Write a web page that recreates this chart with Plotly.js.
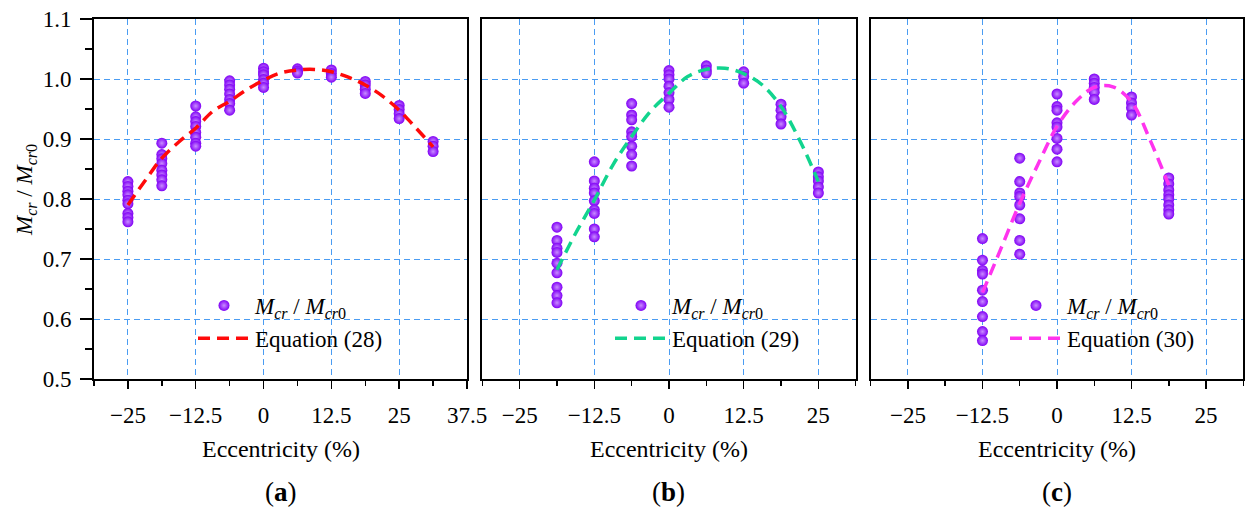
<!DOCTYPE html>
<html>
<head>
<meta charset="utf-8">
<script src="https://cdn.plot.ly/plotly-3.0.1.min.js"></script>
<style>
  html, body { margin: 0; padding: 0; background: #fff; }
  #chart { width: 1254px; height: 514px; }
</style>
</head>
<body>
<div id="chart"></div>
<script>
// eccentricity groups (%) and measured Mcr/Mcr0 per group, panel (a)
const eccA = [-25, -18.75, -12.5, -6.25, 0, 6.25, 12.5, 18.75, 25, 31.25];
const ratioA = [
  [0.829, 0.821, 0.813, 0.807, 0.798, 0.792, 0.776, 0.769, 0.762],
  [0.893, 0.874, 0.867, 0.859, 0.848, 0.84, 0.832, 0.822],
  [0.955, 0.937, 0.929, 0.921, 0.911, 0.903, 0.893, 0.888],
  [0.997, 0.99, 0.983, 0.975, 0.966, 0.959, 0.948],
  [1.018, 1.012, 1.007, 0.999, 0.993, 0.986],
  [1.017, 1.013, 1.01],
  [1.015, 1.009, 1.003],
  [0.996, 0.99, 0.983, 0.976],
  [0.956, 0.949, 0.942, 0.934],
  [0.896, 0.888, 0.879]
];
const eqA_x = [-25, -21.875, -18.75, -15.625, -12.5, -9.375, -6.25, -3.125, 0, 3.125,
               6.25, 9.375, 12.5, 15.625, 18.75, 21.875, 25, 28.125, 31.25];
const eqA_y = [0.79, 0.83, 0.868, 0.895, 0.918, 0.946, 0.963, 0.982, 0.998, 1.01,
               1.015, 1.016, 1.012, 1.003, 0.99, 0.972, 0.948, 0.918, 0.887];

// panel (b)
const eccB = [-18.75, -12.5, -6.25, 0, 6.25, 12.5, 18.75, 25];
const ratioB = [
  [0.753, 0.731, 0.718, 0.711, 0.693, 0.677, 0.653, 0.639, 0.627],
  [0.862, 0.83, 0.818, 0.81, 0.797, 0.782, 0.776, 0.75, 0.737],
  [0.959, 0.94, 0.932, 0.912, 0.904, 0.888, 0.874, 0.855],
  [1.014, 1.007, 1.0, 0.988, 0.977, 0.966, 0.953],
  [1.022, 1.015, 1.01],
  [1.012, 1.004, 0.993],
  [0.958, 0.948, 0.937, 0.925],
  [0.845, 0.837, 0.83, 0.82, 0.81]
];
const eqB_x = [-18.75, -15.625, -12.5, -9.375, -6.25, -3.125, 0, 3.125,
               6.25, 9.375, 12.5, 15.625, 18.75, 21.875, 25];
const eqB_y = [0.682, 0.743, 0.798, 0.857, 0.904, 0.946, 0.976, 1.004,
               1.016, 1.018, 1.009, 0.99, 0.954, 0.898, 0.829];

// panel (c)
const eccC = [-12.5, -6.25, 0, 6.25, 12.5, 18.75];
const ratioC = [
  [0.734, 0.698, 0.681, 0.675, 0.648, 0.629, 0.604, 0.579, 0.564],
  [0.868, 0.829, 0.81, 0.804, 0.79, 0.767, 0.731, 0.708],
  [0.975, 0.954, 0.948, 0.927, 0.92, 0.901, 0.883, 0.862],
  [1.0, 0.993, 0.986, 0.978, 0.966],
  [0.97, 0.96, 0.952, 0.94],
  [0.835, 0.825, 0.815, 0.807, 0.8, 0.79, 0.782, 0.775]
];
const eqC_x = [-12.5, -9.375, -6.25, -3.125, 0, 3.125, 6.25, 9.375, 12.5, 15.625, 18.75];
const eqC_y = [0.644, 0.718, 0.793, 0.859, 0.921, 0.962, 0.986, 0.987, 0.962, 0.898, 0.823];

const eqNames = ["Equation (28)", "Equation (29)", "Equation (30)"];
const eqColors = ["#ff0a0a", "#12d48e", "#ff33ee"];

const serif = "Liberation Serif";
const ratioLabel = "<i>M</i><sub><i>cr</i></sub> / <i>M</i><sub><i>cr</i>0</sub>";

function spread(groups, values) {
  var x = [], y = [];
  groups.forEach(function (g, i) {
    values[i].forEach(function (v) { x.push(g); y.push(v); });
  });
  return {x: x, y: y};
}

function pointTrace(groups, values, ax, leg) {
  var p = spread(groups, values);
  return {
    x: p.x, y: p.y, xaxis: ax[0], yaxis: ax[1], legend: leg,
    type: "scatter", mode: "markers", name: ratioLabel,
    marker: {size: 11, color: "#8000f5",
             gradient: {type: "radial", color: "#c98cff"}}
  };
}

function lineTrace(x, y, i, ax, leg) {
  return {
    x: x, y: y, xaxis: ax[0], yaxis: ax[1], legend: leg,
    type: "scatter", mode: "lines", name: eqNames[i],
    line: {color: eqColors[i], width: 3.5, dash: "12px,7px", shape: "spline"}
  };
}

var data = [
  pointTrace(eccA, ratioA, ["x", "y"], "legend"),
  lineTrace(eqA_x, eqA_y, 0, ["x", "y"], "legend"),
  pointTrace(eccB, ratioB, ["x2", "y2"], "legend2"),
  lineTrace(eqB_x, eqB_y, 1, ["x2", "y2"], "legend2"),
  pointTrace(eccC, ratioC, ["x3", "y3"], "legend3"),
  lineTrace(eqC_x, eqC_y, 2, ["x3", "y3"], "legend3")
];

var W = 1254, H = 514;
function px(v) { return v / W; }
function py(v) { return 1 - v / H; }

var gridCol = "#4a9cf2";
function xAxis(dom, range, anchor) {
  return {
    domain: dom, range: range, anchor: anchor, tick0: 0, dtick: 12.5,
    ticks: "outside", ticklen: 8, tickwidth: 1.5, tickcolor: "#000",
    minor: {dtick: 6.25, ticks: "outside", ticklen: 5, tickwidth: 1.5, tickcolor: "#000", showgrid: false},
    showgrid: true, gridcolor: gridCol, griddash: "6px,4px", gridwidth: 1,
    zeroline: false, showline: true, mirror: true, linecolor: "#000", linewidth: 2,
    tickfont: {family: serif, size: 23, color: "#000"}, ticklabelstandoff: 6,
    fixedrange: true
  };
}
function yAxis(dom, anchor, labels) {
  return {
    domain: dom, range: [0.5, 1.1], anchor: anchor, tick0: 0.5, dtick: 0.1, tickformat: ".1f",
    ticks: labels ? "outside" : "", ticklen: 12, tickwidth: 1.5, tickcolor: "#000",
    minor: labels ? {dtick: 0.05, ticks: "outside", ticklen: 7, tickwidth: 1.5, tickcolor: "#000", showgrid: false}
                  : {showgrid: false},
    showticklabels: labels,
    showgrid: true, gridcolor: gridCol, griddash: "6px,4px", gridwidth: 1,
    zeroline: false, showline: true, mirror: true, linecolor: "#000", linewidth: 2,
    tickfont: {family: serif, size: 23, color: "#000"}, ticklabelstandoff: 4,
    fixedrange: true
  };
}
function legendAt(x, y) {
  return {
    x: x, y: y, xanchor: "left", yanchor: "top", bgcolor: "rgba(0,0,0,0)",
    font: {family: serif, size: 23, color: "#000"}, itemwidth: 52, tracegroupgap: 0
  };
}
function note(text, x, y, size, angle) {
  return {
    text: text, x: x, y: y, xref: "paper", yref: "paper", showarrow: false,
    xanchor: "center", yanchor: "middle", textangle: angle || 0,
    font: {family: serif, size: size, color: "#000"}
  };
}

var yDom = [py(379), py(19)];
var layout = {
  width: W, height: H,
  margin: {l: 0, r: 0, t: 0, b: 0},
  font: {family: serif, size: 23, color: "#000"},
  paper_bgcolor: "#fff", plot_bgcolor: "#fff",
  showlegend: true,
  xaxis: xAxis([px(94), px(467)], [-31.25, 37.5], "y"),
  yaxis: yAxis(yDom, "x", true),
  xaxis2: xAxis([px(482.3), px(855.7)], [-31.25, 31.25], "y2"),
  yaxis2: yAxis(yDom, "x2", false),
  xaxis3: xAxis([px(870.7), px(1243.3)], [-31.25, 31.25], "y3"),
  yaxis3: yAxis(yDom, "x3", false),
  legend: legendAt(px(193), py(284)),
  legend2: legendAt(px(610), py(284)),
  legend3: legendAt(px(1005), py(284)),
  annotations: [
    note("Eccentricity (%)", px(280.5), py(449), 24),
    note("Eccentricity (%)", px(669), py(449), 24),
    note("Eccentricity (%)", px(1057), py(449), 24),
    note("(<b>a</b>)", px(280.5), py(492), 27),
    note("(<b>b</b>)", px(669), py(492), 27),
    note("(<b>c</b>)", px(1057), py(492), 27),
    note(ratioLabel, px(26), py(190), 23, -90)
  ]
};

Plotly.newPlot("chart", data, layout, {displayModeBar: false, staticPlot: true});
</script>
</body>
</html>
